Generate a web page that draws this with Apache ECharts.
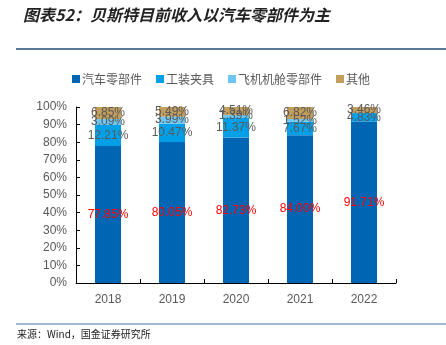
<!DOCTYPE html>
<html><head><meta charset="utf-8">
<script src="https://cdn.jsdelivr.net/npm/echarts@6/dist/echarts.min.js"></script>
<style>html,body{margin:0;padding:0;background:#fff}#c{width:446px;height:345px}</style>
</head><body><div id="c"></div>
<script>
var categories = ['2018', '2019', '2020', '2021', '2022'];
var autoParts = [77.85, 80.05, 82.73, 84.00, 91.71];
var fixtures = [12.21, 10.47, 11.37, 7.67, 4.83];
var aircraft = [3.09, 3.99, 1.39, 1.52, 0];
var others = [6.85, 5.49, 4.51, 6.82, 3.46];
var seriesNames = ['汽车零部件', '工装夹具', '飞机机舱零部件', '其他'];
var colors = ['#0066b3', '#00a0e9', '#6ec6f2', '#c39e5c'];

var chart = echarts.init(document.getElementById('c'));
var numFont = 'Liberation Sans, Arial, sans-serif';
function mk(i, data, labelColor) {
  return {
    name: seriesNames[i], type: 'bar', stack: 'a', data: data, barWidth: 26,
    itemStyle: {color: colors[i]},
    label: {show: true, position: 'inside', color: labelColor, fontSize: 12, fontFamily: numFont,
      textBorderWidth: 0, textBorderColor: 'transparent',
      formatter: function (p) { return p.value ? p.value.toFixed(2) + '%' : ''; }}
  };
}
chart.setOption({
  animation: false,
  title: [{
    text: '图表52：贝斯特目前收入以汽车零部件为主', left: 18, top: 2,
    textStyle: {fontSize: 16, fontStyle: 'italic', fontWeight: 'bold', color: '#222', fontFamily: 'Noto Sans CJK SC'}
  }, {
    text: '来源：Wind，国金证券研究所', left: 17, top: 329, padding: 0,
    textStyle: {fontSize: 10, fontWeight: 'normal', color: '#222', fontFamily: 'Noto Sans CJK SC'}
  }],
  graphic: [
    {type: 'line', shape: {x1: 16, y1: 49, x2: 446, y2: 49}, style: {stroke: '#1f4e6e', lineWidth: 1.5}},
    {type: 'line', shape: {x1: 16, y1: 324, x2: 446, y2: 324}, style: {stroke: '#3d6e94', lineWidth: 1}}
  ],
  legend: {
    left: 67, top: 68, itemWidth: 8, itemHeight: 8, itemGap: 14, icon: 'rect',
    textStyle: {fontSize: 12, color: '#595959', fontFamily: 'Noto Sans CJK SC', padding: [0, 0, 0, -3]},
    data: seriesNames
  },
  grid: {left: 76, right: 50, top: 107, bottom: 62},
  xAxis: {
    type: 'category', data: categories,
    axisLine: {lineStyle: {color: '#000', width: 1}},
    axisTick: {show: true, inside: true, length: 4, lineStyle: {color: '#000'}},
    axisLabel: {color: '#595959', fontSize: 12, fontFamily: numFont, margin: 11}
  },
  yAxis: {
    type: 'value', min: 0, max: 100, interval: 10,
    axisLine: {show: true, lineStyle: {color: '#000', width: 1}},
    axisTick: {show: true, inside: true, length: 4, lineStyle: {color: '#000'}},
    splitLine: {show: false},
    axisLabel: {color: '#595959', fontSize: 12, fontFamily: numFont, margin: 9, formatter: '{value}%'}
  },
  series: [
    mk(0, autoParts, '#ff0000'),
    mk(1, fixtures, '#595959'),
    mk(2, aircraft, '#595959'),
    mk(3, others, '#595959')
  ]
});
</script></body></html>
